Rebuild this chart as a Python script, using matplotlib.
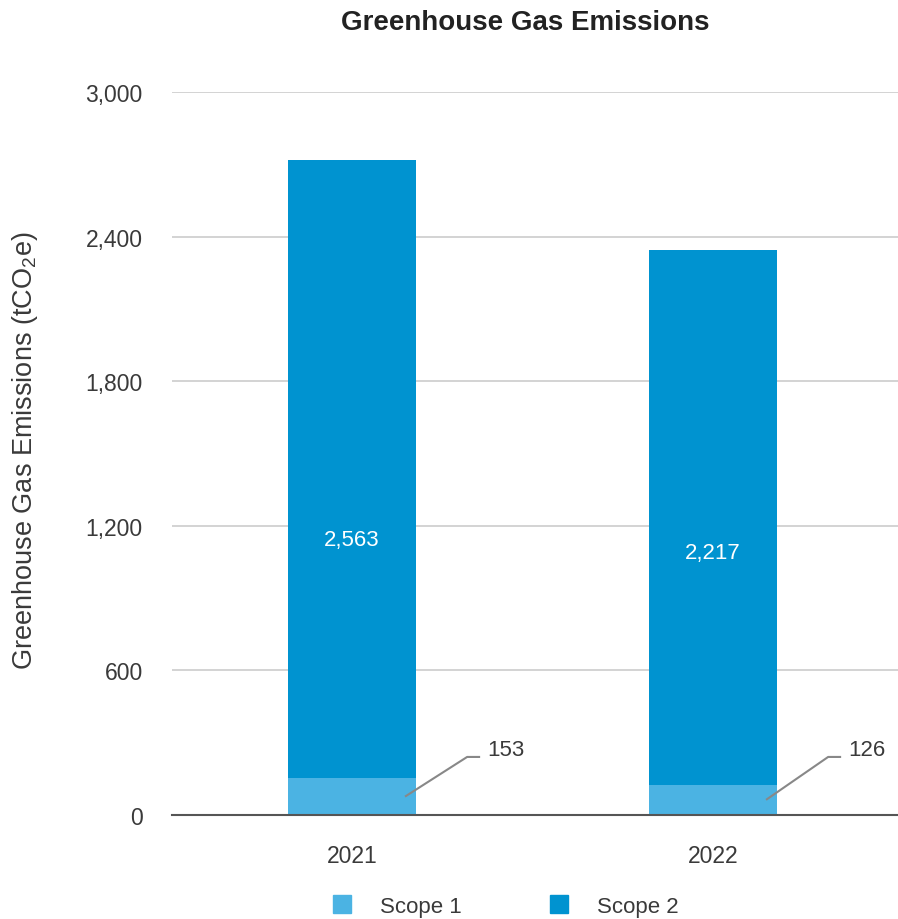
import numpy as np
import matplotlib.pyplot as plt
from matplotlib.lines import Line2D

plt.rcParams['font.family'] = ['Liberation Sans', 'DejaVu Sans']
plt.rcParams['mathtext.fontset'] = 'custom'
plt.rcParams['mathtext.rm'] = 'Liberation Sans'
plt.rcParams['mathtext.it'] = 'Liberation Sans'

# emissions per year (tCO2e)
years = ['2021', '2022']
scope1 = [153, 126]
scope2 = [2563, 2217]
yticks = [0, 600, 1200, 1800, 2400, 3000]

# heights at which the scope 2 values are written inside the bars
scope2_label_y = [1145, 1091]

c_scope1 = '#4bb3e3'
c_scope2 = '#0093d0'
txt = '#3a3a3a'

fig = plt.figure(figsize=(8.98, 9.2), dpi=100)
ax = fig.add_axes([0.1915, 0.113, 0.8085, 0.786])

x = np.arange(len(years))
w = 0.357
ax.bar(x, scope1, w, color=c_scope1, zorder=3)
ax.bar(x, scope2, w, bottom=scope1, color=c_scope2, zorder=3)

# value labels: scope 2 in the bar, scope 1 with a leader line
for i in range(len(years)):
    ax.text(x[i], scope2_label_y[i], f'{scope2[i]:,}', color='white',
            ha='center', va='center', fontsize=16, zorder=4)
    ys = scope1[i] / 2
    ax.plot([x[i] + 0.147, x[i] + 0.319, x[i] + 0.355], [ys, 241, 241],
            color='#888888', lw=1.5, zorder=4, solid_capstyle='butt')
    ax.text(x[i] + 0.375, 270, f'{scope1[i]:,}', color=txt, ha='left', va='center',
            fontsize=16)

ax.set_xlim(-0.4986, 1.5125)
ax.set_ylim(0, 3000)
ax.set_yticks(yticks)
ax.set_yticklabels([f'{v:,}' for v in yticks])
ax.set_xticks(x)
ax.set_xticklabels(years)
ax.tick_params(axis='both', length=0, labelsize=16.5, labelcolor=txt)
ax.tick_params(axis='y', pad=21)
ax.tick_params(axis='x', pad=21)

ax.grid(axis='y', color='#cccccc', lw=1.2, zorder=0)
for s in ['top', 'right', 'left']:
    ax.spines[s].set_visible(False)
ax.spines['bottom'].set_color('#555555')
ax.spines['bottom'].set_linewidth(1.5)
ax.spines['bottom'].set_zorder(5)

ax.set_ylabel('Greenhouse Gas Emissions (tCO$_2$e)', fontsize=19.5, color=txt)
ax.yaxis.set_label_coords(-0.182, 0.505)

fig.text(0.585, 0.975, 'Greenhouse Gas Emissions', ha='center', va='center',
         fontsize=20, fontweight='bold', color='#222222')

handles = [Line2D([], [], marker='s', ls='', ms=13, color=c_scope1),
           Line2D([], [], marker='s', ls='', ms=13, color=c_scope2)]
fig.legend(handles, ['Scope 1', 'Scope 2'], loc='center', ncol=2,
           bbox_to_anchor=(0.562, 0.014), frameon=False, fontsize=16,
           handlelength=1, handletextpad=1.2, columnspacing=3.9,
           labelcolor=txt)

fig.savefig('out.png', dpi=100)
